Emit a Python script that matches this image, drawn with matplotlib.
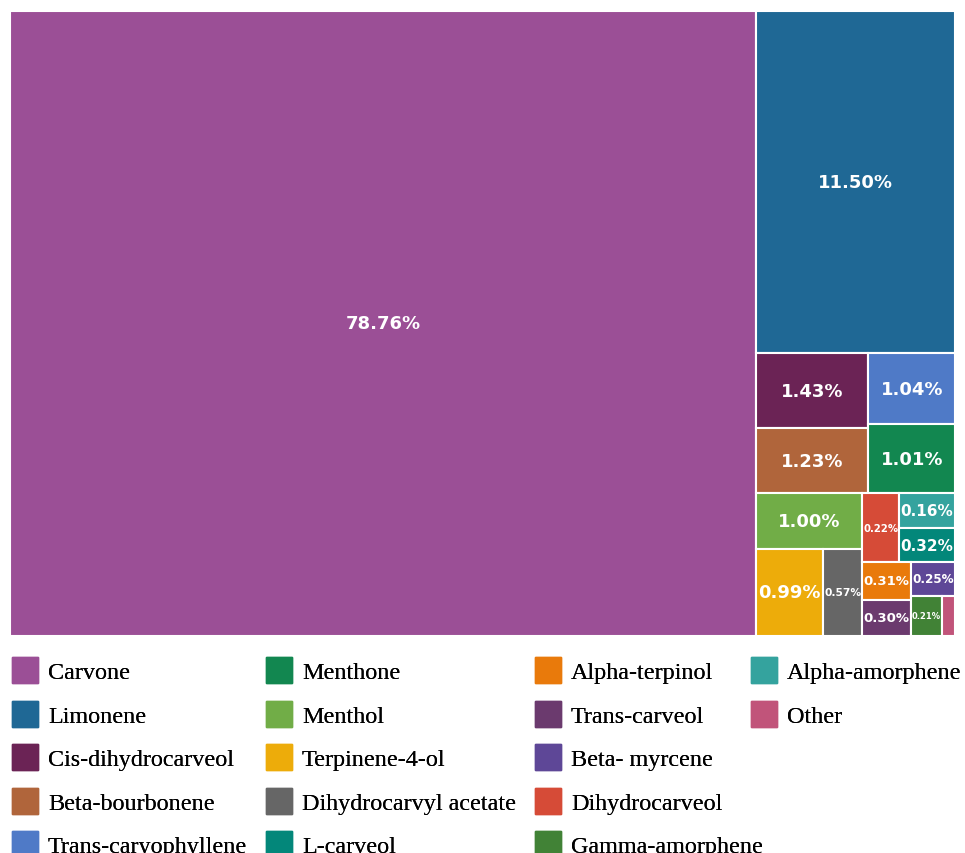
import matplotlib
matplotlib.use('Agg')
import matplotlib.pyplot as plt
from matplotlib.patches import Rectangle, Patch

# 成分名称（图例顺序）
names = ["Carvone", "Limonene", "Cis-dihydrocarveol", "Beta-bourbonene",
         "Trans-caryophyllene", "Menthone", "Menthol", "Terpinene-4-ol",
         "Dihydrocarvyl acetate", "L-carveol", "Alpha-terpinol", "Trans-carveol",
         "Beta- myrcene", "Dihydrocarveol", "Gamma-amorphene", "Alpha-amorphene",
         "Other"]
# 标注的百分比
label_pct = [78.76, 11.50, 1.43, 1.23, 1.04, 1.01, 1.00, 0.99, 0.57, 0.32,
             0.31, 0.30, 0.25, 0.22, 0.21, 0.16, None]
# 方块实际面积（原图中两个小块画得比标注大）
box_size = [78.76, 11.50, 1.43, 1.23, 1.04, 1.01, 1.00, 0.99, 0.57, 0.32,
            0.31, 0.30, 0.25, 0.43, 0.21, 0.33, 0.09]
colors = ["#9B4F96", "#1F6895", "#6B2355", "#B0653B", "#4F7AC7", "#128750",
          "#71AD47", "#EDAC0A", "#666666", "#03877A", "#E97A0B", "#6B3A6E",
          "#5E4797", "#D64B37", "#418236", "#34A39E", "#C1547A"]

W, H = 945, 625  # 绘图区大小（像素）


def split_layout(items, x, y, w, h, out):
    # 二分切割：按累计值对半分，沿长边切
    if len(items) == 1:
        out[items[0]] = (x, y, w, h)
        return
    total = sum(box_size[i] for i in items)
    best_k, best_d, run = 1, None, 0.0
    for k in range(1, len(items)):
        run += box_size[items[k - 1]]
        d = abs(run - total / 2)
        if best_d is None or d < best_d:
            best_k, best_d = k, d
    a, b = items[:best_k], items[best_k:]
    frac = sum(box_size[i] for i in a) / total
    if w >= h:
        split_layout(a, x, y, w * frac, h, out)
        split_layout(b, x + w * frac, y, w * (1 - frac), h, out)
    else:
        split_layout(a, x, y, w, h * frac, out)
        split_layout(b, x, y + h * frac, w, h * (1 - frac), out)


order = sorted(range(len(names)), key=lambda i: -box_size[i])
rects = {}
split_layout(order, 0, 0, W, H, rects)

fig = plt.figure(figsize=(9.65, 8.54), dpi=100)
ax = fig.add_axes([10 / 965, (854 - 637) / 854, W / 965, H / 854])
ax.set_xlim(0, W)
ax.set_ylim(H, 0)
ax.axis('off')

for i in order:
    x, y, w, h = rects[i]
    ax.add_patch(Rectangle((x, y), w, h, facecolor=colors[i],
                           edgecolor='white', linewidth=1.5))
    if label_pct[i] is None:
        continue
    txt = f"{label_pct[i]:.2f}%"
    fs_px = min(w * 0.9 / (len(txt) * 0.66), h * 0.6)
    fs = min(13, fs_px * 72 / 100)
    ax.text(x + w / 2, y + h / 2, txt, ha='center', va='center',
            color='white', fontweight='bold', fontsize=fs,
            family='DejaVu Sans')

# 图例：四列
col_x = [12, 266, 535, 751]
handles = [Patch(facecolor=c, edgecolor=c) for c in colors]
for c in range(4):
    idx = list(range(c * 5, min(c * 5 + 5, len(names))))
    if not idx:
        continue
    leg = fig.legend([handles[i] for i in idx], [names[i] for i in idx],
                     loc='upper left', bbox_to_anchor=(col_x[c] / 965, (854 - 658) / 854),
                     frameon=False, borderpad=0, borderaxespad=0,
                     prop={'family': 'Liberation Serif', 'size': 17.4},
                     handlelength=1.07, handleheight=1.28, handletextpad=0.42,
                     labelspacing=0.72)
    fig.add_artist(leg)

plt.savefig('out.png', dpi=100)
